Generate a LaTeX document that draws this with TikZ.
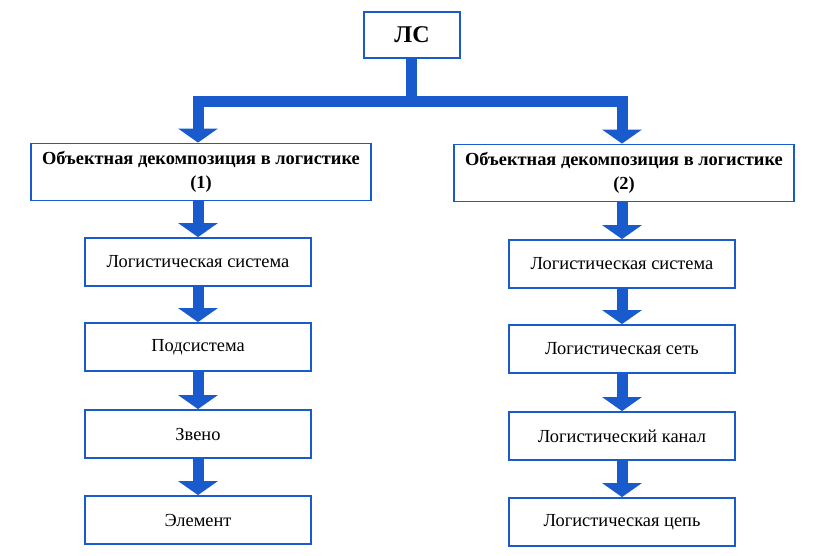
\documentclass[tikz,border=0pt]{standalone}
\usepackage{fontspec}
\setmainfont{Liberation Serif}
\usetikzlibrary{arrows.meta}
\definecolor{bl}{RGB}{25,90,205}
\begin{document}
\begin{tikzpicture}[x=1pt,y=-1pt,
  box/.style={draw=bl, line width=1.8pt, fill=white, inner sep=0pt, align=center,
    minimum width=226pt, minimum height=48pt, font=\fontsize{18.4}{22}\selectfont},
  headbox/.style={box, minimum width=340pt, minimum height=57pt,
    font=\bfseries\fontsize{18.4}{24}\selectfont},
  conn/.style={draw=bl, line width=11pt, -{Triangle[width=39pt,length=14pt]}, line join=miter},
  stem/.style={draw=bl, line width=11pt, line cap=butt}
]
\useasboundingbox[fill=white] (0,0) rectangle (820,556);

\node[box, minimum width=96pt, minimum height=46pt, font=\bfseries\fontsize{24}{28}\selectfont] (ls) at (412,35) {ЛС};

\node[headbox] (h1) at (201,172) {Объектная декомпозиция в логистике\\(1)};
\node[headbox] (h2) at (624,173) {Объектная декомпозиция в логистике\\(2)};

\node[box] (a1) at (198,262) {Логистическая система};
\node[box] (a2) at (198,347) {Подсистема};
\node[box] (a3) at (198,434) {Звено};
\node[box] (a4) at (198,520) {Элемент};

\node[box] (b1) at (622,264) {Логистическая система};
\node[box] (b2) at (622,349) {Логистическая сеть};
\node[box] (b3) at (622,436) {Логистический канал};
\node[box] (b4) at (622,522) {Логистическая цепь};

\coordinate (bar) at (411,102);
\draw[stem] (ls.south -| bar) -- ([yshift=-5.5pt]bar);
\draw[conn] (bar) -| (h1.north -| a1.north);
\draw[conn] (bar) -| (h2.north -| b1.north);

\draw[conn] (h1.south -| a1.north) -- (a1.north);
\draw[conn] (a1.south) -- (a2.north);
\draw[conn] (a2.south) -- (a3.north);
\draw[conn] (a3.south) -- (a4.north);

\draw[conn] (h2.south -| b1.north) -- (b1.north);
\draw[conn] (b1.south) -- (b2.north);
\draw[conn] (b2.south) -- (b3.north);
\draw[conn] (b3.south) -- (b4.north);
\end{tikzpicture}
\end{document}
